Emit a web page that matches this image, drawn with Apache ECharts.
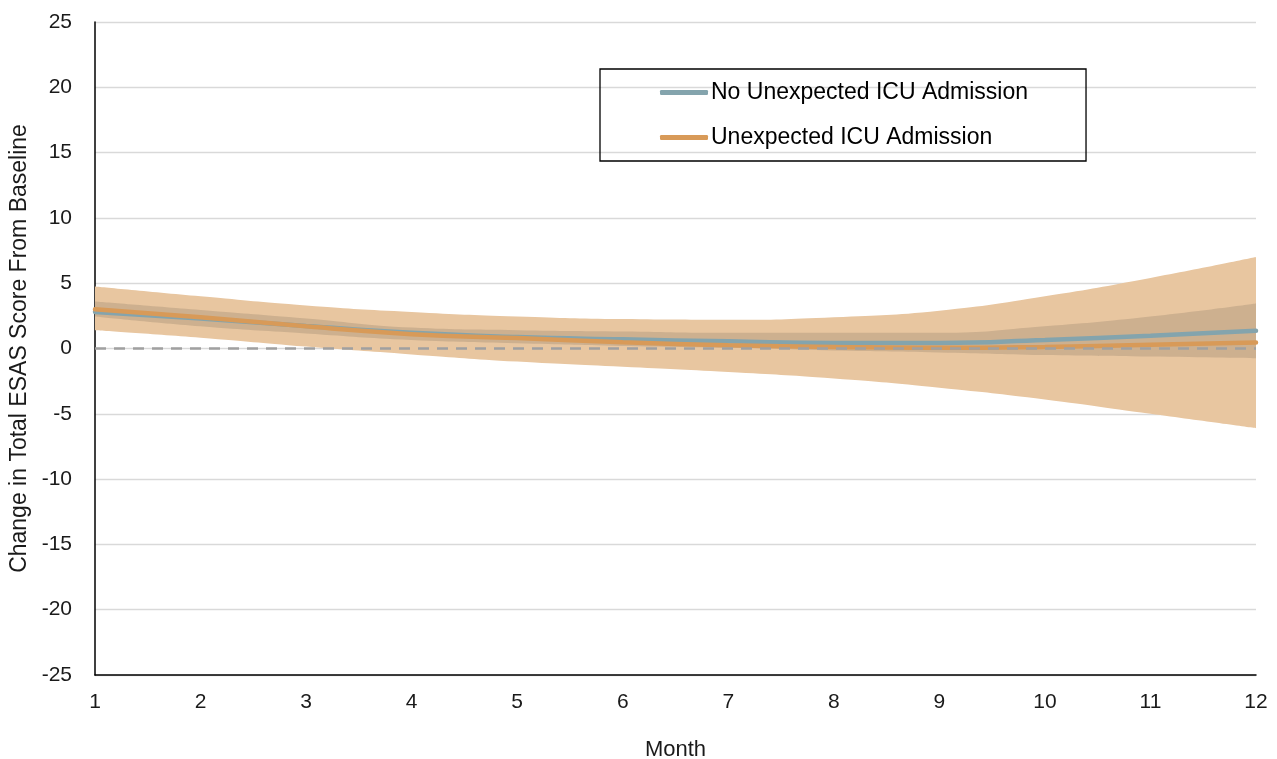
<!DOCTYPE html>
<html>
<head>
<meta charset="utf-8">
<script src="https://cdn.jsdelivr.net/npm/echarts@6/dist/echarts.min.js"></script>
<style>html,body{margin:0;padding:0;background:#fff}#c{width:1277px;height:759px}</style>
</head>
<body>
<div id="c"></div>
<script>
const months = ['1','2','3','4','5','6','7','8','9','10','11','12'];
const noIcu = [2.8, 2.3, 1.72, 1.2, 0.88, 0.7, 0.55, 0.42, 0.42, 0.65, 0.98, 1.35];
const icu = [3.0, 2.4, 1.7, 1.1, 0.8, 0.48, 0.25, 0.12, 0.05, 0.12, 0.28, 0.45];
const icuUpper = [4.75, 4.0, 3.3, 2.8, 2.45, 2.25, 2.2, 2.4, 2.9, 4.0, 5.4, 7.0];
const icuLower = [1.4, 0.83, 0.15, -0.45, -1.0, -1.4, -1.8, -2.3, -3.0, -3.9, -5.0, -6.1];
const noIcuUpper = [3.6, 2.95, 2.3, 1.6, 1.4, 1.3, 1.2, 1.2, 1.2, 1.7, 2.45, 3.45];
const noIcuLower = [2.45, 1.7, 1.15, 0.65, 0.4, 0.2, 0.05, -0.15, -0.3, -0.5, -0.62, -0.75];
const zeroLine = months.map(() => 0);
const yTicks = { min: -25, max: 25, interval: 5 };

const diff = (a, b) => a.map((v, i) => +(v - b[i]).toFixed(3));
const FONT = 'Liberation Sans, Arial, sans-serif';

const chart = echarts.init(document.getElementById('c'), null, { renderer: 'canvas' });
chart.setOption({
  animation: false,
  backgroundColor: '#fff',
  grid: { left: 95, right: 21, top: 22, bottom: 84, containLabel: false, outerBoundsMode: 'none' },
  legend: {
    data: ['No Unexpected ICU Admission', 'Unexpected ICU Admission'],
    orient: 'vertical',
    left: 600, top: 69,
    padding: [12, 58, 12, 60],
    borderColor: '#000', borderWidth: 1.3,
    itemWidth: 48, itemHeight: 5, itemGap: 22,
    icon: 'roundRect',
    textStyle: { fontFamily: FONT, fontSize: 23, color: '#000', padding: [0, 0, 0, -2] }
  },
  xAxis: {
    type: 'category', data: months, boundaryGap: false,
    name: 'Month', nameLocation: 'middle', nameGap: 64,
    nameTextStyle: { fontFamily: FONT, fontSize: 22, color: '#1a1a1a' },
    axisLine: { onZero: false, lineStyle: { color: '#000', width: 1.5 } },
    axisTick: { show: false },
    axisLabel: { fontFamily: FONT, fontSize: 21, color: '#1a1a1a', margin: 17 },
    splitLine: { show: false }
  },
  yAxis: {
    type: 'value', min: yTicks.min, max: yTicks.max, interval: yTicks.interval,
    name: 'Change in Total ESAS Score From Baseline', nameLocation: 'middle', nameGap: 64,
    nameTextStyle: { fontFamily: FONT, fontSize: 23, color: '#1a1a1a' },
    axisLine: { show: true, lineStyle: { color: '#000', width: 1.5 } },
    axisTick: { show: false },
    axisLabel: { fontFamily: FONT, fontSize: 21, color: '#1a1a1a', margin: 23 },
    splitLine: { lineStyle: { color: '#d9d9d9', width: 1.3 } }
  },
  series: [
    { name: 'icuLo', type: 'line', stack: 'icuBand', stackStrategy: 'all', data: icuLower, smooth: true,
      symbol: 'none', lineStyle: { opacity: 0 }, silent: true },
    { name: 'icuBand', type: 'line', stack: 'icuBand', stackStrategy: 'all', data: diff(icuUpper, icuLower), smooth: true,
      symbol: 'none', lineStyle: { opacity: 0 }, areaStyle: { color: '#E8C6A0', opacity: 1 }, silent: true },
    { name: 'noLo', type: 'line', stack: 'noBand', stackStrategy: 'all', data: noIcuLower, smooth: true,
      symbol: 'none', lineStyle: { opacity: 0 }, silent: true },
    { name: 'noBand', type: 'line', stack: 'noBand', stackStrategy: 'all', data: diff(noIcuUpper, noIcuLower), smooth: true,
      symbol: 'none', lineStyle: { opacity: 0 }, areaStyle: { color: 'rgb(178,154,126)', opacity: 0.5 }, silent: true },
    { name: 'No Unexpected ICU Admission', type: 'line', data: noIcu, smooth: true, symbol: 'none',
      itemStyle: { color: '#84A4AD' }, lineStyle: { color: '#84A4AD', width: 4.5, cap: 'round' }, z: 5 },
    { name: 'Unexpected ICU Admission', type: 'line', data: icu, smooth: true, symbol: 'none',
      itemStyle: { color: '#D89A58' }, lineStyle: { color: '#D89A58', width: 4.5, cap: 'round' }, z: 6 },
    { name: 'zero', type: 'line', data: zeroLine, symbol: 'none', silent: true,
      lineStyle: { color: '#A0A0A0', width: 2.4, type: [11, 8] }, z: 7 }
  ]
});
</script>
</body>
</html>
